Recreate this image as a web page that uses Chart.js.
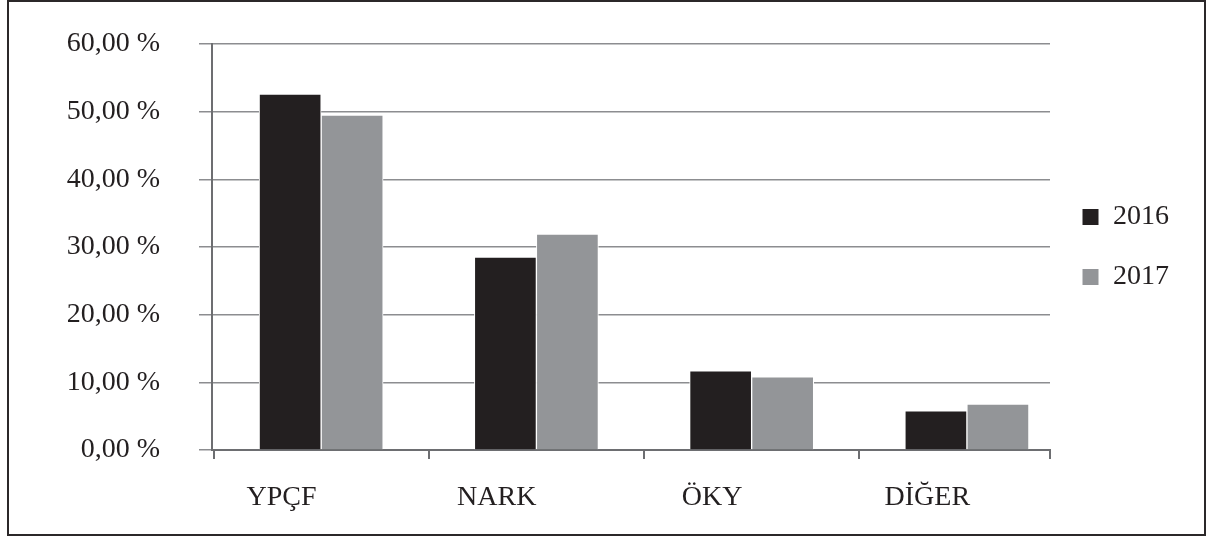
<!DOCTYPE html>
<html>
<head>
<meta charset="utf-8">
<script src="https://cdn.jsdelivr.net/npm/chart.js@4.4.1/dist/chart.umd.min.js"></script>
<style>
  html, body { margin: 0; padding: 0; background: #ffffff; }
  #wrap { position: relative; width: 1211px; height: 536px; }
  #c { position: absolute; left: 0; top: 0; }
  #frame {
    position: absolute; left: 7px; top: 0px; width: 1195px; height: 532px;
    border: 2px solid #2b2829; pointer-events: none;
  }
</style>
</head>
<body>
<div id="wrap">
  <canvas id="c" width="1211" height="536"></canvas>
  <div id="frame"></div>
</div>
<script>
// Categories and shares per year (percent)
const categories = ['YPÇF', 'NARK', 'ÖKY', 'DİĞER'];
const share2016 = [52.6, 28.5, 11.7, 5.8];
const share2017 = [49.5, 31.9, 10.8, 6.8];
const yearLabels = ['2016', '2017'];

// Axis range and tick step for the value axis
const yMin = 0;
const yMax = 60;
const yStep = 10;

// Category boundaries on the index axis (the last category is cut at the axis end)
const xMin = -0.507;
const xMax = 3.386;

const FONT = { family: '"Liberation Serif", "Times New Roman", serif', size: 28 };
const TEXT = '#231f20';
const GRID = '#8c8d90';
const AXIS = '#6d6e71';

const toPoints = arr => arr.map((v, i) => ({ x: i, y: v }));
const fmtPct = v => v.toFixed(2).replace('.', ',') + ' %';

new Chart(document.getElementById('c'), {
  type: 'bar',
  data: {
    datasets: [
      {
        label: yearLabels[0],
        data: toPoints(share2016),
        backgroundColor: '#231f20',
        borderColor: '#ffffff',
        borderWidth: 1,
        borderSkipped: 'bottom'
      },
      {
        label: yearLabels[1],
        data: toPoints(share2017),
        backgroundColor: '#939598',
        borderColor: '#ffffff',
        borderWidth: 1,
        borderSkipped: 'bottom'
      }
    ]
  },
  options: {
    responsive: false,
    animation: false,
    devicePixelRatio: 1,
    barThickness: 62,
    layout: { padding: { top: 44, right: 32, bottom: 0, left: 0 } },
    plugins: {
      tooltip: { enabled: false },
      legend: {
        position: 'right',
        fullSize: false,
        labels: {
          font: FONT,
          color: TEXT,
          boxWidth: 17,
          boxHeight: 17,
          padding: 32
        }
      }
    },
    scales: {
      x: {
        type: 'linear',
        offset: false,
        min: xMin,
        max: xMax,
        afterBuildTicks: axis => {
          const t = categories.map((_, i) => ({ value: i - 0.5 }));
          t.push({ value: xMax });
          axis.ticks = t;
        },
        afterFit: axis => { axis.height = 86; },
        grid: {
          offset: false,
          drawOnChartArea: false,
          drawTicks: true,
          tickLength: 9,
          color: AXIS,
          lineWidth: 2
        },
        border: { display: true, color: AXIS, width: 2 },
        ticks: {
          autoSkip: false,
          maxRotation: 0,
          padding: 22,
          labelOffset: 68,
          font: FONT,
          color: TEXT,
          callback: (value, index) => categories[index] ?? ''
        }
      },
      y: {
        min: yMin,
        max: yMax,
        afterFit: axis => {
          axis.width = 212;
          axis.paddingTop = 0;
          axis.paddingBottom = 0;
        },
        grid: {
          drawOnChartArea: true,
          drawTicks: true,
          tickLength: 13,
          color: GRID,
          lineWidth: 1.5
        },
        border: { display: true, color: AXIS, width: 2 },
        ticks: {
          stepSize: yStep,
          padding: 39,
          font: FONT,
          color: TEXT,
          callback: v => fmtPct(v)
        }
      }
    }
  }
});
</script>
</body>
</html>
